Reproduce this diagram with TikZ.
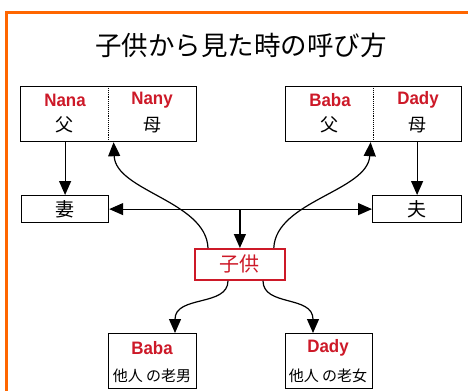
\documentclass[tikz,border=0pt]{standalone}
\usepackage{fontspec}
\setmainfont{Liberation Sans}
\newfontfamily\jp{Noto Sans CJK JP}
\newfontfamily\lat[FakeStretch=0.94]{Liberation Sans}
\usetikzlibrary{arrows.meta,calc}
\definecolor{bord}{RGB}{255,102,0}
\definecolor{lred}{RGB}{205,25,40}
\tikzset{
  box/.style={draw=black, line width=1.2pt, inner sep=0pt, anchor=north west},
  redbox/.style={draw=lred, line width=1.8pt, inner sep=0pt, anchor=north west},
  lbl/.style={text=lred, font=\lat\bfseries\fontsize{18}{18}\selectfont, inner sep=0pt},
  jtx/.style={font=\jp\fontsize{18}{18}\selectfont, inner sep=0pt},
  otx/.style={font=\jp\fontsize{15}{15}\selectfont, inner sep=0pt},
  arr/.style={line width=1.2pt, -{Triangle[length=14pt,width=12pt]}},
  darr/.style={line width=1.2pt, {Triangle[length=14pt,width=12pt]}-{Triangle[length=14pt,width=12pt]}},
}
\begin{document}
\begin{tikzpicture}[x=1pt,y=-1pt]
\useasboundingbox[fill=white] (0,0) rectangle (468,391);
\draw[bord, line width=3pt] (468,12) -- (6.5,12) -- (6.5,391);
\node[font=\jp\fontsize{26.5}{26.5}\selectfont, inner sep=0pt] (title) at (241,45) {子供から見た時の呼び方};
% top boxes
\node[box, minimum width=176pt, minimum height=55pt] (tl) at (20,86) {};
\node[box, minimum width=176pt, minimum height=55pt] (tr) at (285,86) {};
\draw[densely dotted, line width=0.9pt] (tl.north) -- (tl.south);
\draw[densely dotted, line width=0.9pt] ($(tr.north)+(-0.5,0)$) coordinate (trn) -- ($(tr.south)+(-0.5,0)$) coordinate (trs);
\node[lbl] (nana) at (65,100) {Nana};
\node[lbl] (nany) at (152,100) {Nany};
\node[jtx] (f1) at (64,125) {父};
\node[jtx] (m1) at (152,125) {母};
\node[lbl] (baba1) at (330,100) {Baba};
\node[lbl] (dady1) at (418,100) {Dady};
\node[jtx] (f2) at (329,125) {父};
\node[jtx] (m2) at (417,125) {母};
% wife / husband
\node[box, minimum width=87pt, minimum height=27pt] (wife) at (21,195) {};
\node[jtx, font=\jp\fontsize{19}{19}\selectfont] (wifet) at (wife.center) {妻};
\node[box, minimum width=89pt, minimum height=27pt] (hus) at (372,195) {};
\node[jtx, font=\jp\fontsize{19}{19}\selectfont] (hust) at (hus.center) {夫};
% child
\node[redbox, minimum width=90pt, minimum height=31pt] (child) at (194,248) {};
\node[text=lred, font=\jp\fontsize{20}{20}\selectfont, inner sep=0pt] (childt) at (child.center) {子供};
% bottom boxes
\node[box, minimum width=88pt, minimum height=55pt] (bl) at (108,333) {};
\node[box, minimum width=87pt, minimum height=55pt] (br) at (285,333) {};
\node[lbl] (baba2) at (152,348) {Baba};
\node[otx] (ol) at (152,376) {他人 の老男};
\node[lbl] (dady2) at (328,348) {Dady};
\node[otx] (of) at (328,376) {他人 の老女};
% connectors
\draw[arr] (tl.south -| wife.north) -- (wife.north);
\draw[arr] (tr.south -| hus.north) -- (hus.north);
\draw[darr] (wife.east) -- (hus.west);
\coordinate (mid) at (child.north |- wife.east);
\draw[arr] (mid) -- (child.north);
\coordinate (tlt) at ($(tl.south)+(5,0)$);
\coordinate (trt) at ($(tr.south)+(-3,0)$);
\coordinate (cl) at ($(child.north west)+(14,0)$);
\coordinate (cr) at ($(child.north east)+(-12,0)$);
\draw[arr] (cl) .. controls ($(cl)+(-2,-47)$) and ($(tlt)+(2,49)$) .. (tlt);
\draw[arr] (cr) .. controls ($(cr)+(2,-47)$) and ($(trt)+(-3,49)$) .. (trt);
\coordinate (bl1) at ($(child.south west)+(34,0)$);
\coordinate (br1) at ($(child.south west)+(69,0)$);
\coordinate (blt) at ($(bl.north west)+(67,0)$);
\coordinate (brt) at ($(br.north west)+(28,0)$);
\draw[arr] (bl1) .. controls ($(bl1)+(0,26)$) and ($(blt)+(0,-38)$) .. (blt);
\draw[arr] (br1) .. controls ($(br1)+(0,26)$) and ($(brt)+(0,-38)$) .. (brt);
\end{tikzpicture}
\end{document}
